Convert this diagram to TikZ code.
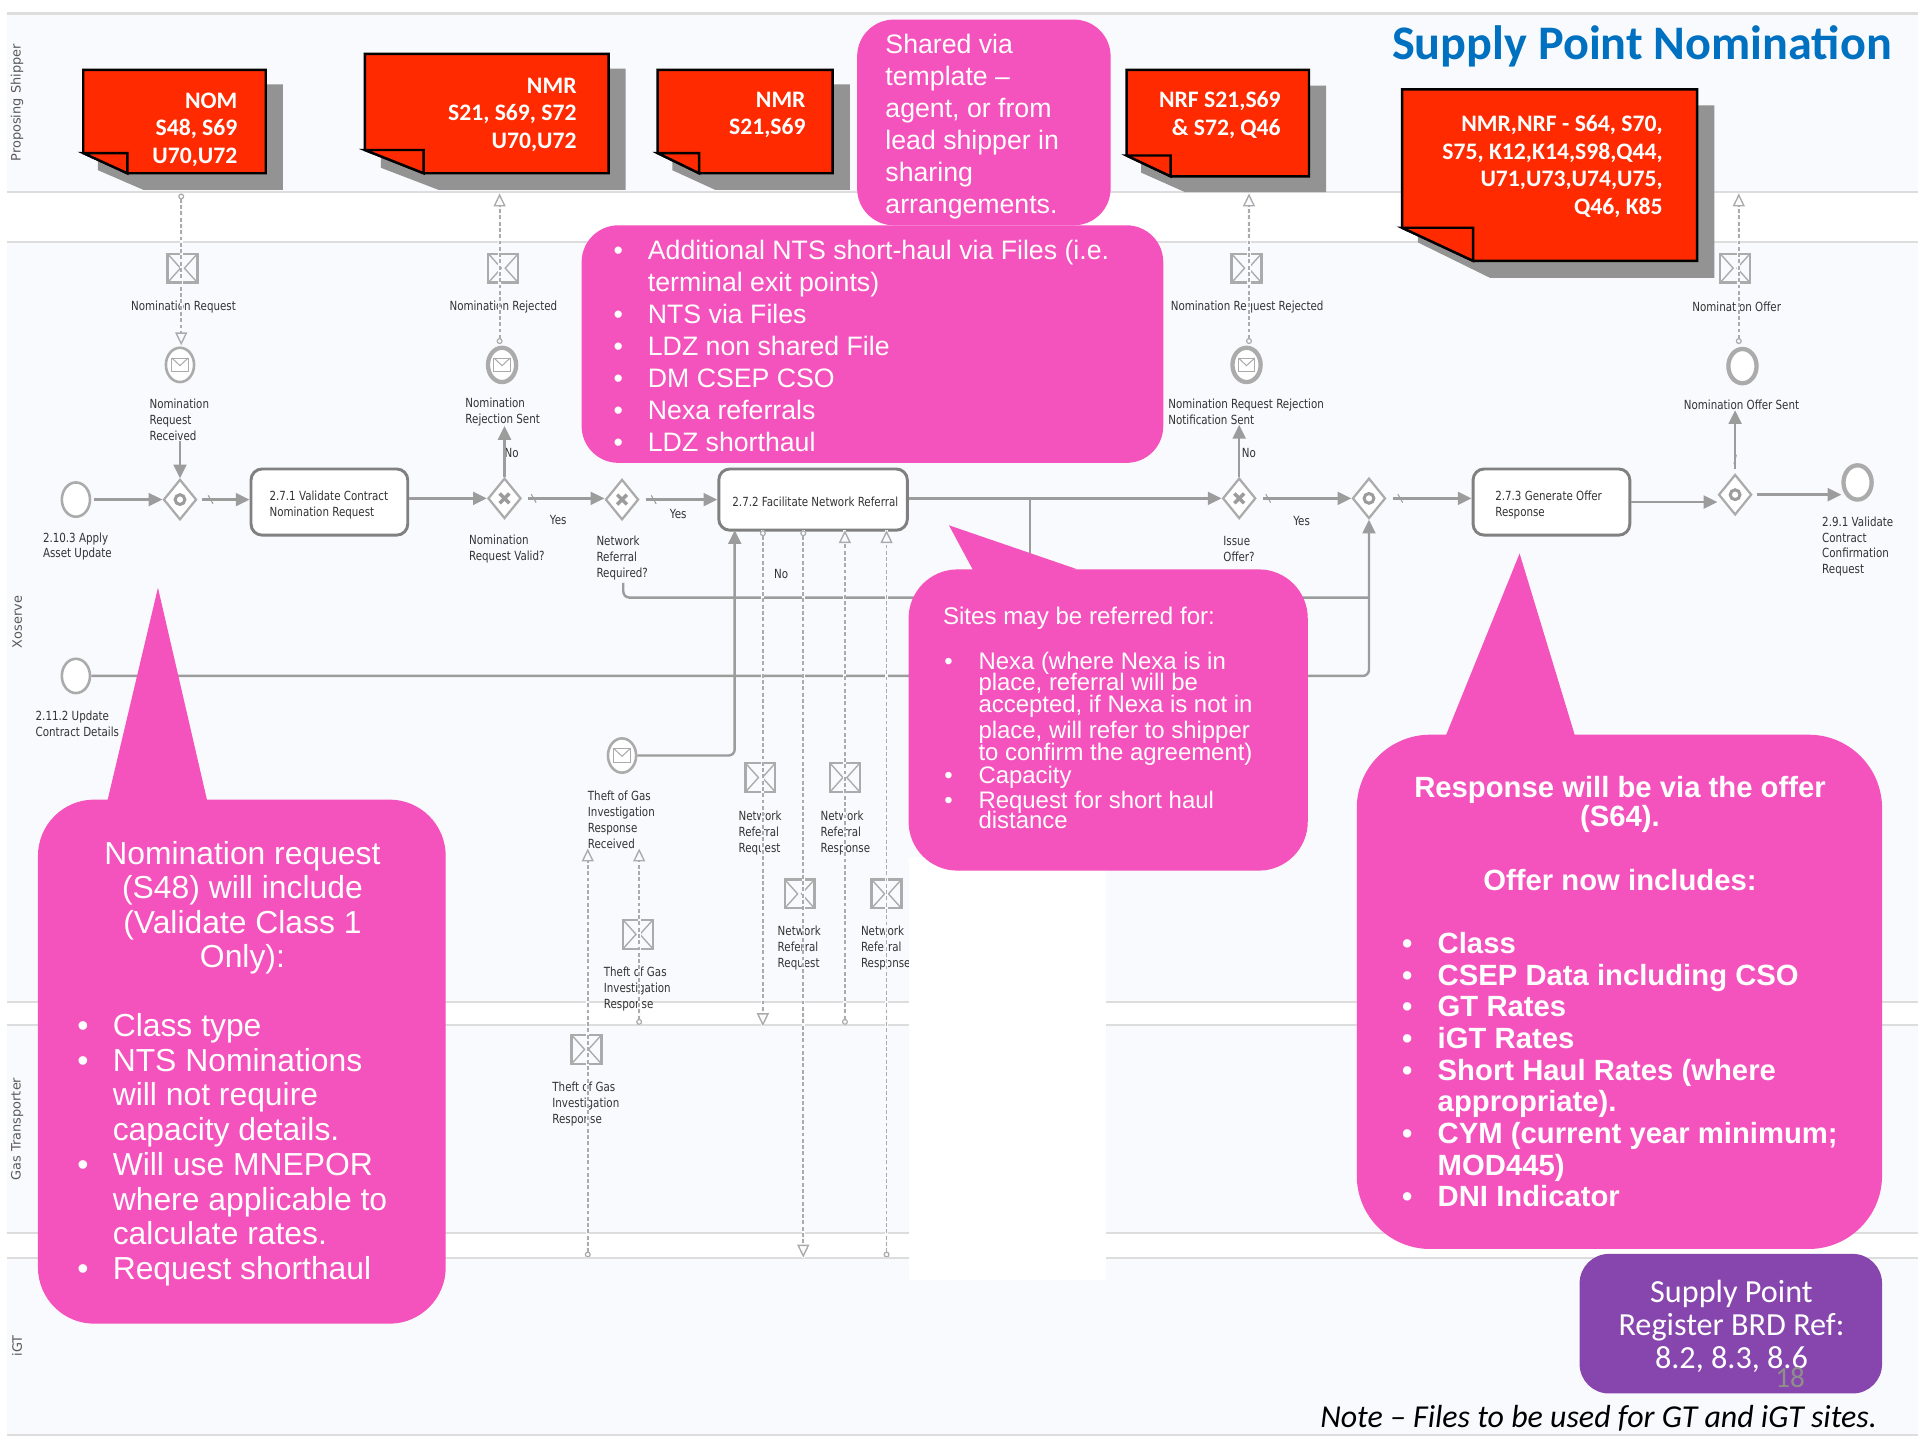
\documentclass[tikz,border=0pt]{standalone}
\usepackage{fontspec}
\usetikzlibrary{shapes.geometric, arrows.meta}
\setmainfont{Liberation Sans}
\newfontfamily\calibrifont{Carlito}
\newfontfamily\bpmnfont[FakeStretch=0.82]{DejaVu Sans}
\newfontfamily\lanefont{DejaVu Sans}
\definecolor{lanebg}{HTML}{F9FAFD}
\definecolor{laneline}{HTML}{DDDDDD}
\definecolor{flowgray}{HTML}{9C9C9C}
\definecolor{shapegray}{HTML}{ABABAB}
\definecolor{notered}{HTML}{FF2A00}
\definecolor{noteshade}{HTML}{939393}
\definecolor{calloutpink}{HTML}{F452BC}
\definecolor{brdpurple}{HTML}{8746AD}
\definecolor{titleblue}{HTML}{0070C0}
\definecolor{pagegray}{HTML}{8E8E8A}
\newcommand{\bul}[1]{\makebox[#1][l]{\textbullet}}
\newcommand{\tightlines}{\lineskiplimit=-20pt\relax}
\tikzset{
  lanetext/.style={font=\lanefont\fontsize{15}{17}\selectfont, text=black!65, rotate=90, inner sep=0},
  lbl/.style={font=\bpmnfont\fontsize{14.6}{18.5}\selectfont, text=black!80, anchor=west, align=left, inner sep=0, yshift=-1.2pt},
  tasknode/.style={draw=black!50, line width=3.4pt, fill=white, rounded corners=0.45cm, inner sep=0},
  eventnode/.style={ellipse, draw=shapegray, line width=3pt, fill=white, minimum width=1.15cm, minimum height=1.4cm, inner sep=0},
  thickevent/.style={eventnode, line width=5pt},
  envelope/.style={path picture={
    \draw[shapegray, line width=1.2pt] ([shift={(-.33cm,-.28cm)}]path picture bounding box.center) rectangle ([shift={(.33cm,.28cm)}]path picture bounding box.center);
    \draw[shapegray, line width=1.2pt] ([shift={(-.33cm,.28cm)}]path picture bounding box.center) -- ([shift={(0,-.03cm)}]path picture bounding box.center) -- ([shift={(.33cm,.28cm)}]path picture bounding box.center);}},
  gateway/.style={diamond, draw=shapegray, line width=2.6pt, fill=white, minimum width=1.35cm, minimum height=1.65cm, inner sep=0},
  gatex/.style={gateway, path picture={
    \draw[flowgray, line width=4pt] ([shift={(-.2cm,-.2cm)}]path picture bounding box.center) -- ([shift={(.2cm,.2cm)}]path picture bounding box.center);
    \draw[flowgray, line width=4pt] ([shift={(-.2cm,.2cm)}]path picture bounding box.center) -- ([shift={(.2cm,-.2cm)}]path picture bounding box.center);}},
  gateo/.style={gateway, path picture={
    \draw[flowgray, line width=3.5pt] (path picture bounding box.center) circle (.2cm);}},
  msgbox/.style={draw=shapegray, line width=2.6pt, fill=none, minimum width=1.22cm, minimum height=1.18cm, inner sep=0, path picture={
    \draw[shapegray, line width=1.6pt] (path picture bounding box.north west) -- ([xshift=-.08cm]path picture bounding box.center) -- (path picture bounding box.south west);
    \draw[shapegray, line width=1.6pt] (path picture bounding box.north east) -- ([xshift=.08cm]path picture bounding box.center) -- (path picture bounding box.south east);}},
  seqflow/.style={draw=flowgray, line width=2.8pt, -{Triangle[length=16pt,width=15pt]}},
  flowline/.style={draw=flowgray, line width=2.8pt, rounded corners=0.25cm},
  slash/.style={draw=flowgray, line width=1.2pt, minimum width=0pt, minimum height=0.4cm, inner sep=0, rotate=30},
  msgflow/.style={draw=shapegray, line width=2.2pt, dash pattern=on 4.5pt off 2.8pt, preaction={draw=lanebg, solid, line width=3.5pt, arrows=-}},
  msgarrow/.style={msgflow, {Circle[open,length=7pt,width=7pt,line width=1.4pt]}-{Triangle[open,length=15pt,width=14pt,line width=1.6pt]}},
  noteshadow/.style={fill=noteshade},
  notebody/.style={draw=black, line width=2.8pt, fill=notered, line join=miter},
  notetext/.style={font=\calibrifont\bfseries\fontsize{27.5}{32}\selectfont, text=white, anchor=east, align=right, inner sep=0},
  pinktext/.style={font=\fontsize{31}{37.1}\selectfont, text=white, anchor=west, align=left, inner sep=0},
}
\begin{document}
\begin{tikzpicture}[x=0.05cm, y=-0.05cm]
  \useasboundingbox (0,0) rectangle (1568,1176);
  \fill[white] (0,0) rectangle (1568,1176);

  % lanes
  \fill[lanebg] (6,11) rectangle (1566,156.5);
  \fill[lanebg] (6,197.5) rectangle (1566,818);
  \fill[lanebg] (6,837) rectangle (1566,1007);
  \fill[lanebg] (6,1027) rectangle (1566,1172);
  \foreach \yy in {11, 156.5, 197.5, 818, 837, 1007, 1027, 1172}
    \draw[laneline, line width=2.4pt] (6,\yy) -- (1566,\yy);

  \node[lanetext] at (14,84) (shipper) {Proposing Shipper};
  \node[lanetext] at (14,508) (xoserve) {Xoserve};
  \node[lanetext] at (14,922) (transporter) {Gas Transporter};
  \node[lanetext] at (14,1099) (igt) {iGT};

  % tasks, events, gateways
  \node[tasknode, minimum width=6.4cm, minimum height=2.7cm] at (269,410) (task1) {};
  \node[tasknode, minimum width=7.7cm, minimum height=2.5cm] at (664,408) (task2) {};
  \node[tasknode, minimum width=6.4cm, minimum height=2.7cm] at (1267,410) (task3) {};

  \node[eventnode] at (62,408) (apply) {};
  \node[eventnode] at (62,552) (update) {};
  \node[eventnode, envelope] at (147,298) (received) {};
  \node[thickevent, envelope] at (410,298) (rejsent) {};
  \node[thickevent, envelope] at (1018,298) (reqrejsent) {};
  \node[thickevent] at (1423,299) (offersent) {};
  \node[thickevent] at (1517,394) (confirm) {};
  \node[eventnode, envelope] at (508,617) (theftev) {};

  \node[gateo] at (147,408) (gwa) {};
  \node[gatex] at (412,407) (gwb) {};
  \node[gatex] at (508,408) (gwc) {};
  \node[gatex] at (1012,407) (gwd) {};
  \node[gateo] at (1118,407) (gwe) {};
  \node[gateo] at (1417,404) (gwf) {};

  % labels
  \node[lbl] at (107,250) (nomreq) {Nomination Request};
  \node[lbl] at (367,250) (nomrej) {Nomination Rejected};
  \node[lbl] at (956,250) (reqrej) {Nomination Request Rejected};
  \node[lbl] at (1382,250) (nomoffer) {Nomination Offer};
  \node[lbl] at (122,342) (recvlbl) {Nomination\\Request\\Received};
  \node[lbl] at (380,335.5) (rejlbl) {Nomination\\Rejection Sent};
  \node[lbl] at (954,335.5) (notiflbl) {Nomination Request Rejection\\Notification Sent};
  \node[lbl] at (1375,330) (offerlbl) {Nomination Offer Sent};
  \node[lbl] at (412,369) (no1) {No};
  \node[lbl] at (1014,369) (no2) {No};
  \node[lbl] at (632,468) (no3) {No};
  \node[lbl] at (449,424) (yes1) {Yes};
  \node[lbl] at (547,419) (yes2) {Yes};
  \node[lbl] at (1056,425) (yes3) {Yes};
  \node[lbl] at (35,445.5) (applylbl) {2.10.3 Apply\\Asset Update};
  \node[lbl] at (29,590.5) (updatelbl) {2.11.2 Update\\Contract Details};
  \node[lbl] at (220,411.5) (task1lbl) {2.7.1 Validate Contract\\Nomination Request};
  \node[lbl] at (598,409) (task2lbl) {2.7.2 Facilitate Network Referral};
  \node[lbl] at (1221,411.5) (task3lbl) {2.7.3 Generate Offer\\Response};
  \node[lbl] at (383,447.5) (validlbl) {Nomination\\Request Valid?};
  \node[lbl] at (487,455) (requiredlbl) {Network\\Referral\\Required?};
  \node[lbl] at (999,447.5) (issuelbl) {Issue\\Offer?};
  \node[lbl] at (1488,445.5) (confirmlbl) {2.9.1 Validate\\Contract\\Confirmation\\Request};
  \node[lbl] at (480,668.5) (theftlbl) {Theft of Gas\\Investigation\\Response\\Received};
  \node[lbl] at (603,679.5) (netreqa) {Network\\Referral\\Request};
  \node[lbl] at (670,679.5) (netresa) {Network\\Referral\\Response};
  \node[lbl] at (635,773.5) (netreqb) {Network\\Referral\\Request};
  \node[lbl] at (703,773.5) (netresb) {Network\\Referral\\Response};
  \node[lbl] at (493,807) (theftresa) {Theft of Gas\\Investigation\\Response};
  \node[lbl] at (451,901) (theftresb) {Theft of Gas\\Investigation\\Response};

  % message boxes
  \foreach \nm/\xx/\yy in {mreq/149/219, mrej/411/219, mreqrej/1018/219, moffer/1417/219, mneta/621/635, mnetb/690/635, mnetc/653/730, mnetd/724/730, mthefta/521/763, mtheftb/479/857}
    \node[msgbox] at (\xx,\yy) (\nm) {};

  % sequence flows
  \draw[seqflow, shorten <=3pt] (apply) -- (gwa);
  \draw[seqflow, shorten <=5pt] (gwa) -- node[slash, pos=.25] (sla) {} (gwa -| task1.west);
  \draw[seqflow] (gwa.north |- recvlbl.south) -- (gwa);
  \draw[seqflow] (task1.east |- gwb) -- (gwb);
  \draw[seqflow] (gwb) -- (gwb.north |- rejlbl.south);
  \draw[seqflow, shorten <=7pt] (gwb) -- node[slash, pos=.14] (slf) {} (gwb -| gwc.west);
  \draw[seqflow, shorten <=7pt] (gwc) -- node[slash, pos=.18] (slb) {} (gwc -| task2.west);
  \draw[seqflow] (task2.east |- gwd) -- (gwd);
  \draw[seqflow] (gwd) -- (gwd.north |- notiflbl.south);
  \draw[seqflow, shorten <=7pt] (gwd) -- node[slash, pos=.12] (slc) {} (gwe);
  \draw[seqflow, shorten <=7pt] (gwe) -- node[slash, pos=.16] (sld) {} (gwe -| task3.west);
  \draw[seqflow] (task3.east) -- (task3.east -| gwf.west);
  \draw[seqflow, shorten <=5pt] (gwf) -- (gwf -| confirm.west);
  \draw[seqflow, shorten <=5pt] (gwf) -- node[slash, pos=.22, rotate=-45] (sle) {} (gwf.north |- offerlbl.south);

  \coordinate (reqout) at (509,476);
  \coordinate (reqjoin) at (1118,488);
  \coordinate (refbranch) at (841,408);
  \coordinate (theftin) at (600,433);
  \draw[flowline] (reqout) |- (reqjoin);
  \draw[flowline] (refbranch) -- (refbranch |- reqjoin);
  \draw[seqflow, rounded corners=0.25cm] (update) -| (gwe.south);
  \draw[seqflow, rounded corners=0.25cm] (theftev) -| (theftin);

  % message flows
  \coordinate (nomout) at (148,158);
  \coordinate (nmrin) at (408,158);
  \coordinate (nrfin) at (1020,158);
  \coordinate (offerin) at (1420,158);
  \coordinate (rejout) at (408,281);
  \coordinate (reqrejout) at (1020,281);
  \coordinate (offerout) at (1420,281);
  \coordinate (recvin) at (148,282);
  \coordinate (refa) at (623,433);
  \coordinate (refb) at (656,433);
  \coordinate (refc) at (690,433);
  \coordinate (refd) at (724,433);
  \coordinate (refaend) at (623,838);
  \coordinate (refbend) at (656,1027);
  \coordinate (refcend) at (690,837);
  \coordinate (refdend) at (724,1027);
  \coordinate (theftin1) at (480,693);
  \coordinate (theftin2) at (522,693);
  \coordinate (theftout1) at (480,1027);
  \coordinate (theftout2) at (522,837);
  \draw[msgarrow] (nomout) -- (recvin);
  \draw[msgarrow] (rejout) -- (nmrin);
  \draw[msgarrow] (reqrejout) -- (nrfin);
  \draw[msgarrow] (offerout) -- (offerin);
  \draw[msgarrow] (refa) -- (refaend);
  \draw[msgarrow] (refb) -- (refbend);
  \draw[msgarrow] (refcend) -- (refc);
  \draw[msgarrow] (refdend) -- (refd);
  \draw[msgarrow] (theftout1) -- (theftin1);
  \draw[msgarrow] (theftout2) -- (theftin2);

  % white patch behind the sites callout
  \fill[white] (742,700) rectangle (903,1045);

  % red notes
  \fill[noteshadow] (80,69) -- (231,69) -- (231,155) -- (117,155) -- (80,139) -- cycle;
  \draw[notebody] (68,57) -- (217,57) -- (217,141.5) -- (104,141.5) -- (68,125) -- cycle;
  \draw[notebody] (68,125) -- (104,125) -- (104,141.5) -- cycle;
  \node[notetext] at (194,106) (nomnote) {NOM\\S48, S69\\U70,U72};

  \fill[noteshadow] (311,56) -- (511,56) -- (511,155) -- (358,155) -- (311,137) -- cycle;
  \draw[notebody] (298,44) -- (497,44) -- (497,141.5) -- (346,141.5) -- (298,122.5) -- cycle;
  \draw[notebody] (298,122.5) -- (346,122.5) -- (346,141.5) -- cycle;
  \node[notetext] at (471,93.5) (nmrnote) {NMR\\S21, S69, S72\\U70,U72};

  \fill[noteshadow] (549,69) -- (694,69) -- (694,155) -- (584,155) -- (549,139) -- cycle;
  \draw[notebody] (537,57) -- (680,57) -- (680,141.5) -- (571,141.5) -- (537,125) -- cycle;
  \draw[notebody] (537,125) -- (571,125) -- (571,141.5) -- cycle;
  \node[notetext] at (658,94) (nmrshort) {NMR\\S21,S69};

  \fill[noteshadow] (932,70) -- (1083,70) -- (1083,157) -- (968,157) -- (932,141) -- cycle;
  \draw[notebody] (920,57) -- (1069,57) -- (1069,144) -- (956,144) -- (920,127) -- cycle;
  \draw[notebody] (920,127) -- (956,127) -- (956,144) -- cycle;
  \node[notetext] at (1046,94) (nrfnote) {NRF S21,S69\\\& S72, Q46};

  \fill[noteshadow] (1158,86) -- (1400,86) -- (1400,227) -- (1217,227) -- (1158,198) -- cycle;
  \draw[notebody] (1145,73) -- (1386,73) -- (1386,213) -- (1203,213) -- (1145,186) -- cycle;
  \draw[notebody] (1145,186) -- (1203,186) -- (1203,213) -- cycle;
  \node[notetext] at (1358,136) (offernote) {NMR,NRF - S64, S70,\\S75, K12,K14,S98,Q44,\\U71,U73,U74,U75,\\Q46, K85};

  % callouts
  \fill[calloutpink, rounded corners=1.5cm] (700,16) rectangle (907,184);
  \fill[calloutpink, rounded corners=1.5cm] (475,184) rectangle (950,378);
  \fill[calloutpink] (775,429) -- (880,465) -- (797,470) -- cycle;
  \fill[calloutpink, rounded corners=2cm] (742,465) rectangle (1068,711);
  \fill[calloutpink] (129,480) -- (86.3,660) -- (170.6,660) -- cycle;
  \fill[calloutpink, rounded corners=2.3cm] (31,653) rectangle (364,1081);
  \fill[calloutpink] (1241,452) -- (1177,610) -- (1289,610) -- cycle;
  \fill[calloutpink, rounded corners=3cm] (1108,600) rectangle (1537,1020);
  \fill[brdpurple, rounded corners=1.2cm] (1290,1024) rectangle (1537,1138);

  \node[pinktext] at (723,103.5) (sharedtxt) {Shared via\\template --\\agent, or from\\lead shipper in\\sharing\\arrangements.};
  \node[pinktext] at (501,282.5) (filestxt) {\bul{1.4cm}Additional NTS short-haul via Files (i.e.\\\hspace*{1.4cm}terminal exit points)\\\bul{1.4cm}NTS via Files\\\bul{1.4cm}LDZ non shared File\\\bul{1.4cm}DM CSEP CSO\\\bul{1.4cm}Nexa referrals\\\bul{1.4cm}LDZ shorthaul};
  \node[pinktext, font=\fontsize{28}{34}\selectfont] at (770,505) (sitestxt) {Sites may be referred for:};
  \node[pinktext, font=\fontsize{27.8}{24.2}\selectfont\tightlines] at (771,605) (sitelist) {\bul{1.4cm}Nexa (where Nexa is in\\\hspace*{1.4cm}place, referral will be\\[1.4pt]\hspace*{1.4cm}accepted, if Nexa is not in\\[5.7pt]\hspace*{1.4cm}place, will refer to shipper\\[1.4pt]\hspace*{1.4cm}to confirm the agreement)\\[2.8pt]\bul{1.4cm}Capacity\\[4.2pt]\bul{1.4cm}Request for short haul\\\hspace*{1.4cm}distance};
  \node[pinktext, anchor=center, align=center, font=\fontsize{37}{40}\selectfont] at (198,741.5) (nomhead) {Nomination request\\(S48) will include\\(Validate Class 1\\Only):};
  \node[pinktext, font=\fontsize{37}{40.4}\selectfont] at (63,939) (nomlist) {\bul{1.45cm}Class type\\\bul{1.45cm}NTS Nominations\\\hspace*{1.45cm}will not require\\\hspace*{1.45cm}capacity details.\\\bul{1.45cm}Will use MNEPOR\\\hspace*{1.45cm}where applicable to\\\hspace*{1.45cm}calculate rates.\\\bul{1.45cm}Request shorthaul};
  \node[pinktext, anchor=center, align=center, font=\bfseries\fontsize{34}{34}\selectfont] at (1323,657) (offerhead) {Response will be via the offer\\(S64).};
  \node[pinktext, anchor=center, align=center, font=\bfseries\fontsize{34}{37}\selectfont] at (1323,719) (offerhead2) {Offer now includes:};
  \node[pinktext, font=\bfseries\fontsize{34}{36.8}\selectfont] at (1145,873.5) (offerlist) {\bul{1.45cm}Class\\\bul{1.45cm}CSEP Data including CSO\\\bul{1.45cm}GT Rates\\\bul{1.45cm}iGT Rates\\\bul{1.45cm}Short Haul Rates (where\\\hspace*{1.45cm}appropriate).\\\bul{1.45cm}CYM (current year minimum;\\\hspace*{1.45cm}MOD445)\\\bul{1.45cm}DNI Indicator};
  \node[pinktext, anchor=center, align=center, font=\calibrifont\fontsize{37.4}{38.5}\selectfont] at (1414,1083) (brdtxt) {Supply Point\\Register BRD Ref:\\8.2, 8.3, 8.6};

  \node[font=\calibrifont\fontsize{34}{40}\selectfont, text=pagegray, inner sep=0] at (1462,1125) (pagenum) {18};
  \node[font=\calibrifont\bfseries\fontsize{56}{64}\selectfont, text=titleblue, anchor=east, inner sep=0] at (1545,38) (titletxt) {Supply Point Nomination};
  \node[font=\calibrifont\itshape\fontsize{37.1}{42}\selectfont, text=black, anchor=east, inner sep=0] at (1533,1158.5) (notetxt) {Note – Files to be used for GT and iGT sites.};
\end{tikzpicture}
\end{document}
